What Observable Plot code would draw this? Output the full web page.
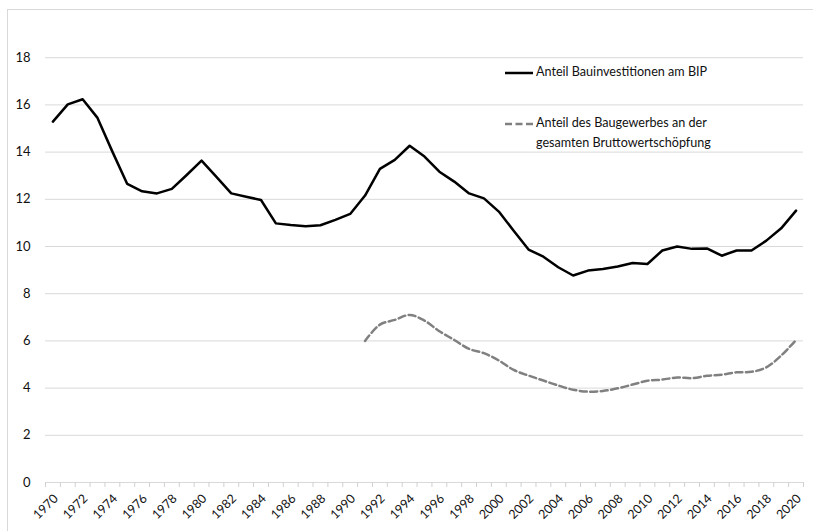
<!DOCTYPE html>
<html>
<head>
<meta charset="utf-8">
<script src="https://cdn.jsdelivr.net/npm/d3@7"></script>
<script src="https://cdn.jsdelivr.net/npm/@observablehq/plot@0.6"></script>
<style>
  html, body { margin: 0; padding: 0; background: #fff; }
  #wrap { position: relative; width: 813px; height: 531px; overflow: hidden; font-family: Lato, "Noto Sans", sans-serif; }
  #frame { position: absolute; left: 7px; top: 9px; width: 820px; height: 540px; border-left: 1px solid #d9d9d9; border-top: 1px solid #d9d9d9; box-sizing: border-box; }
  #chart { position: absolute; left: 0; top: 0; }
  .leg { position: absolute; font-size: 12.6px; color: #111; line-height: 20px; }
  .leg svg { position: absolute; }
</style>
</head>
<body>
<div id="wrap">
  <div id="frame"></div>
  <div id="chart"></div>
  <div class="leg" id="leg1" style="left:504px; top:62px;">
    <svg width="30" height="20" style="left:0; top:0;"><line x1="1" y1="11" x2="29" y2="11" stroke="#000" stroke-width="2.5"/></svg>
    <div style="margin-left:32px; white-space:nowrap;">Anteil Bauinvestitionen am BIP</div>
  </div>
  <div class="leg" id="leg2" style="left:504px; top:113px;">
    <svg width="30" height="20" style="left:0; top:0;"><line x1="1" y1="11" x2="29" y2="11" stroke="#808080" stroke-width="2.5" stroke-dasharray="7,3.5"/></svg>
    <div style="margin-left:32px; white-space:nowrap;">Anteil des Baugewerbes an der<br>gesamten Bruttowertschöpfung</div>
  </div>
</div>
<script>
// Years (categories)
const years = d3.range(1970, 2021);

// Anteil Bauinvestitionen am BIP (1970–2020)
const bauinvest = [
  15.29, 16.02, 16.24, 15.45, 14.02, 12.65, 12.34, 12.25, 12.44, 13.03,
  13.64, 12.95, 12.25, 12.11, 11.97, 10.98, 10.91, 10.86, 10.90, 11.13,
  11.38, 12.16, 13.29, 13.67, 14.27, 13.81, 13.17, 12.75, 12.25, 12.04,
  11.48, 10.67, 9.87, 9.57, 9.12, 8.77, 8.98, 9.05, 9.15, 9.30,
  9.26, 9.83, 10.00, 9.90, 9.92, 9.61, 9.83, 9.83, 10.25, 10.77,
  11.52
];

// Anteil des Baugewerbes an der gesamten Bruttowertschöpfung (1991–2020)
const baugewerbeYears = d3.range(1991, 2021);
const baugewerbe = [
  6.00, 6.69, 6.89, 7.10, 6.86, 6.41, 6.04, 5.66, 5.48, 5.17,
  4.77, 4.53, 4.32, 4.11, 3.93, 3.85, 3.88, 3.99, 4.15, 4.31,
  4.36, 4.45, 4.42, 4.52, 4.57, 4.67, 4.69, 4.88, 5.38, 6.04
];

const yTicks = [0, 2, 4, 6, 8, 10, 12, 14, 16, 18];
const xLabelYears = years.filter(y => (y - 1970) % 2 === 0);

const s1 = years.map((y, i) => ({year: y, value: bauinvest[i]}));
const s2 = baugewerbeYears.map((y, i) => ({year: y, value: baugewerbe[i]}));
const boundaries = years.map(y => y - 0.5).concat([years[years.length - 1] + 0.5]);

const chart = Plot.plot({
  width: 813,
  height: 531,
  marginLeft: 45,
  marginRight: 10,
  marginTop: 10,
  marginBottom: 49,
  style: {fontFamily: "Lato, 'Noto Sans', sans-serif", fontSize: "13px", color: "#111", background: "transparent"},
  x: {type: "linear", domain: [years[0] - 0.5, years[years.length - 1] + 0.5]},
  y: {domain: [0, 20]},
  marks: [
    Plot.ruleY(yTicks, {stroke: "#d9d9d9", strokeWidth: 1}),
    Plot.axisY({ticks: yTicks, tickSize: 0, tickPadding: 15, label: null, fontSize: 13}),
    Plot.axisX({ticks: boundaries, tickSize: 5, tickFormat: () => "", stroke: "#d0d0d0", label: null}),
    Plot.text(xLabelYears, {x: d => d, y: 0, text: d => String(d), rotate: -45, textAnchor: "end", lineAnchor: "middle", dx: 3, dy: 14, fontSize: 12.5, fill: "#111"}),
    Plot.line(s2, {x: "year", y: "value", stroke: "#808080", strokeWidth: 2.5, strokeDasharray: "7,3.5", curve: "catmull-rom"}),
    Plot.line(s1, {x: "year", y: "value", stroke: "#000", strokeWidth: 2.5, strokeLinejoin: "round"})
  ]
});
document.getElementById("chart").appendChild(chart);
</script>
</body>
</html>
